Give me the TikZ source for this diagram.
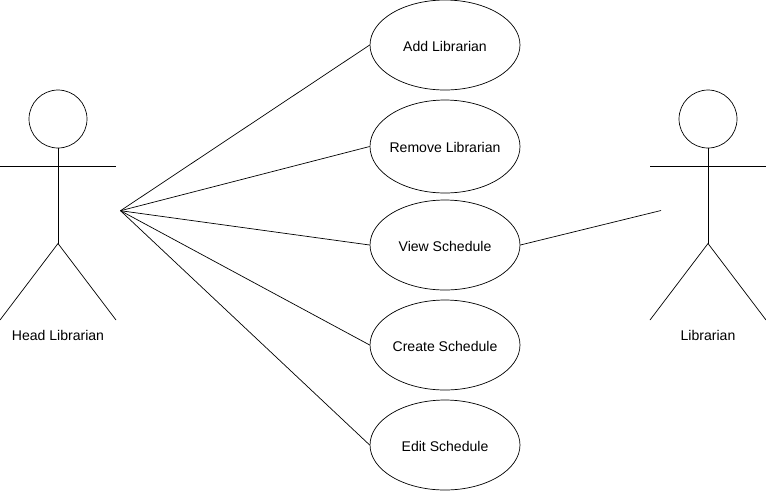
\documentclass[tikz,border=0pt]{standalone}
\usepackage{fontspec}
\setmainfont{Liberation Sans}
\usetikzlibrary{shapes.geometric, positioning}

\begin{document}
\begin{tikzpicture}[
  x=0.02cm, y=-0.02cm,
  usecase/.style={ellipse, draw=black, fill=white, inner xsep=-8mm, inner ysep=0pt, minimum width=3cm, minimum height=1.8cm, text height=7.2pt, text depth=0pt, font=\fontsize{8}{10}\selectfont},
  actorlabel/.style={font=\fontsize{8}{10}\selectfont, inner sep=0pt},
  head/.style={circle, draw=black, inner sep=0pt, minimum size=1.16cm},
  link/.style={draw=black, line width=0.4pt}
]
\useasboundingbox (0,0) rectangle (766,491);
% use cases
\node[usecase] (add) at (445,45) {Add Librarian};
\node[usecase, minimum height=1.86cm] (rem) at (445,146.5) {Remove Librarian};
\node[usecase] (view) at (445,245) {View Schedule};
\node[usecase] (create) at (445,345) {Create Schedule};
\node[usecase] (edit) at (445,445) {Edit Schedule};
% head librarian
\node[head] (hl) at (58,119) {};
\coordinate (hlhip) at (58,243.5);
\coordinate (hlarml) at (0,166.5);
\coordinate (hlarmr) at (116,166.5);
\coordinate (hlfootl) at (0,320);
\coordinate (hlfootr) at (116,320);
\coordinate (hlhub) at (120.5,210.7);
\draw[link] (hl) -- (hlhip);
\draw[link] (hlarml) -- (hlarmr);
\draw[link] (hlfootl) -- (hlhip) -- (hlfootr);
\node[actorlabel] (hlname) at (58,335) {Head Librarian};
% librarian
\node[head] (lb) at (708,119) {};
\coordinate (lbhip) at (708,243.5);
\coordinate (lbarml) at (650,166.5);
\coordinate (lbarmr) at (766,166.5);
\coordinate (lbfootl) at (650,320);
\coordinate (lbfootr) at (766,320);
\coordinate (lbhub) at (661,210.5);
\draw[link] (lb) -- (lbhip);
\draw[link] (lbarml) -- (lbarmr);
\draw[link] (lbfootl) -- (lbhip) -- (lbfootr);
\node[actorlabel] (lbname) at (708,335) {Librarian};
% connectors
\foreach \uc in {add,rem,view,create,edit}
  \draw[link] (hlhub) -- (\uc.west);
\draw[link] (view.east) -- (lbhub);
\end{tikzpicture}
\end{document}
